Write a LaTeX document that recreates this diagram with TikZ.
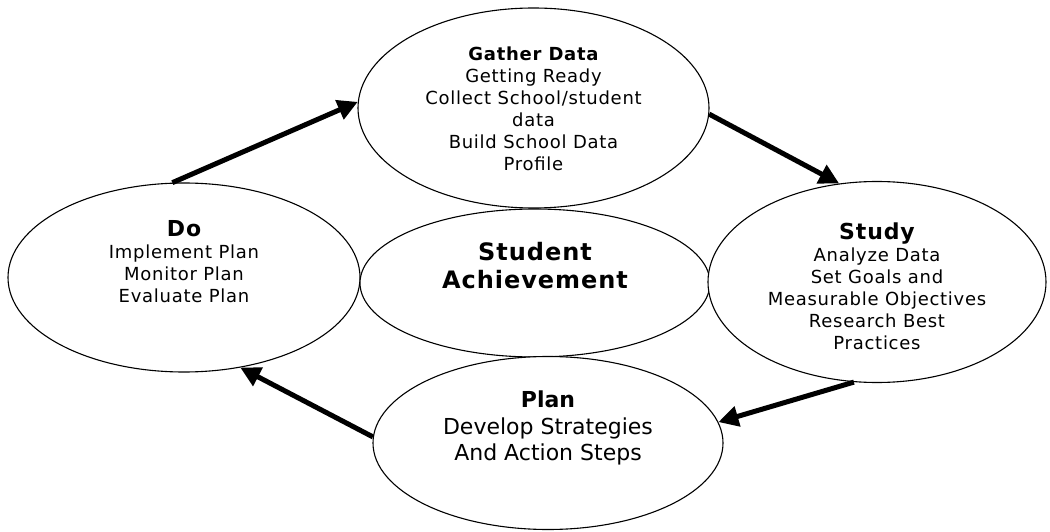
\documentclass[tikz,border=0pt]{standalone}
\usepackage{fontspec}
\setmainfont{DejaVu Sans}[LetterSpace=4.0]
\newfontfamily\planfont{DejaVu Sans}
\usetikzlibrary{arrows.meta,shapes.geometric}
\tikzset{
  oval/.style={ellipse, draw=black, line width=1.1pt, fill=white, inner sep=0pt},
  txt/.style={align=center, text=black, inner sep=0pt, font=\fontsize{18}{22}\selectfont},
  flow/.style={line width=5pt, -{Triangle[length=20pt,width=20pt]}}
}
\begin{document}
\begin{tikzpicture}[x=1pt,y=1pt]
\useasboundingbox (0,0) rectangle (1050,531);
% ellipses
\node[oval, minimum width=351pt, minimum height=200pt] (gather) at (533.5,423) {};
\node[oval, minimum width=352pt, minimum height=189pt] (do) at (184,253.5) {};
\node[oval, minimum width=350pt, minimum height=148pt] (ach) at (535,248) {};
\node[oval, minimum width=338pt, minimum height=201pt] (study) at (877,249) {};
\node[oval, minimum width=350pt, minimum height=173pt] (plan) at (548,88) {};
% texts
\node[txt] (gathertxt) at (533.5,422) {{\bfseries Gather Data}\\Getting Ready\\Collect School/student\\data\\Build School Data\\Profile};
\node[txt] (dotxt) at (184,269) {{\fontsize{22}{22}\selectfont\bfseries Do}\\Implement Plan\\Monitor Plan\\Evaluate Plan};
\node[txt, font=\fontsize{24}{28}\selectfont\bfseries] (achtxt) at (535,265) {Student\\Achievement};
\node[txt] (studytxt) at (877,245) {{\fontsize{22}{22}\selectfont\bfseries Study}\\Analyze Data\\Set Goals and\\Measurable Objectives\\Research Best\\Practices};
\node[txt, font=\planfont\fontsize{22}{26.5}\selectfont] (plantxt) at (548,103) {{\bfseries Plan}\\Develop Strategies\\And Action Steps};
% arrows
\draw[flow] (do.97) -- (gather.178.4);
\draw[flow] (gather.-2.3) -- (study.111.3);
\draw[flow] (study.257.7) -- (plan.7.3);
\draw[flow] (plan.178.4) -- (do.302);
\end{tikzpicture}
\end{document}
